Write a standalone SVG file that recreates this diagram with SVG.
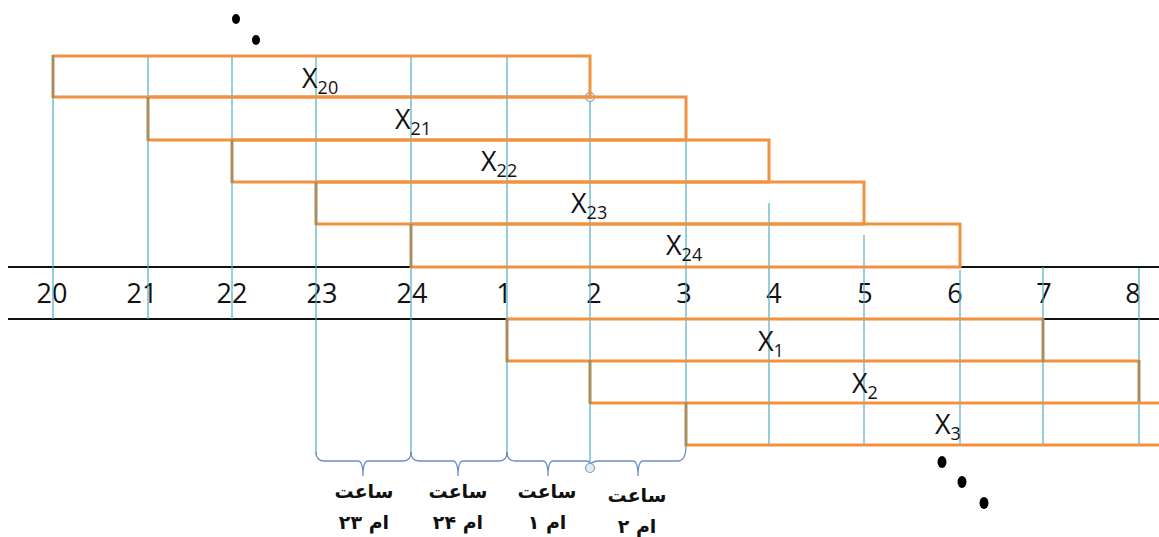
<svg xmlns="http://www.w3.org/2000/svg" width="1159" height="537" viewBox="0 0 1159 537">
<style>
.bg{fill:#ffffff}
.grid{stroke:#4FAEC4;stroke-width:1.2;fill:none}
.axis{stroke:#111111;stroke-width:2;fill:none}
.box{stroke:#F0923F;stroke-width:3;fill:none;stroke-linejoin:miter}
.edge{stroke:#A88E5E;stroke-width:3;fill:none}
.brace{stroke:#6A8EC4;stroke-width:1.3;fill:none}
.num{font-family:"Open Sans","Liberation Sans",sans-serif;font-size:27px;fill:#111111;text-anchor:middle}
.xl{font-family:"Open Sans","Liberation Sans",sans-serif;font-size:27px;fill:#111111}
.sub{font-size:18px}
.fa{font-family:"DejaVu Sans","Noto Sans",sans-serif;font-size:19px;font-weight:bold;fill:#111111;text-anchor:middle}
.dot{fill:#000000}
.knot{fill:#DCEEF5;stroke:#8A9BA8;stroke-width:1.2}
</style>
<rect class="bg" x="0" y="0" width="1159" height="537"/>

<g id="timeline">
  <path class="axis" d="M8,267 H411 M960,267 H1159 M8,319 H507 M1043,319 H1159"/>
  <text class="num" x="52" y="303">20</text>
  <text class="num" x="142" y="303">21</text>
  <text class="num" x="232" y="303">22</text>
  <text class="num" x="322" y="303">23</text>
  <text class="num" x="412" y="303">24</text>
  <text class="num" x="504" y="303">1</text>
  <text class="num" x="594" y="303">2</text>
  <text class="num" x="684" y="303">3</text>
  <text class="num" x="774" y="303">4</text>
  <text class="num" x="865" y="303">5</text>
  <text class="num" x="955" y="303">6</text>
  <text class="num" x="1044" y="303">7</text>
  <text class="num" x="1133" y="303">8</text>
</g>

<g id="connectors">
  <path class="grid" d="M53,56 V319 M148,56 V319 M232,56 V319 M316,56 V455 M411,56 V455 M507,56 V455 M590,97 V464 M686,140 V445 M769,203 V445 M864,235 V445 M960,270 V445 M1043,267 V445 M1139,268 V445"/>
  <path class="brace" d="M316,452 Q316,461 324,461 H358 Q363,461 363,476 Q363,461 368,461 H403 Q411,461 411,452"/>
  <path class="brace" d="M411,452 Q411,461 419,461 H453 Q458,461 458,476 Q458,461 463,461 H499 Q507,461 507,452"/>
  <path class="brace" d="M507,452 Q507,461 515,461 H543 Q548,461 548,476 Q548,461 553,461 H586 Q590,461 590,464"/>
  <path class="brace" d="M590,464 Q594,461 598,461 H633 Q638,461 638,476 Q638,461 643,461 H678 Q686,461 686,445"/>
  <circle class="knot" cx="590" cy="97" r="4.5"/>
  <circle class="knot" cx="590" cy="468" r="4.5"/>
</g>

<g id="X20">
  <path class="box" d="M53,56 H590 V97 H53"/>
  <path class="edge" d="M53,55 V98"/>
  <text class="xl" x="302" y="88">X<tspan class="sub" dy="6">20</tspan></text>
</g>
<g id="X21">
  <path class="box" d="M148,97 H686 V140 H148"/>
  <path class="edge" d="M148,97 V141"/>
  <text class="xl" x="395" y="129">X<tspan class="sub" dy="6">21</tspan></text>
</g>
<g id="X22">
  <path class="box" d="M232,140 H769 V182 H232"/>
  <path class="edge" d="M232,140 V183"/>
  <text class="xl" x="481" y="171">X<tspan class="sub" dy="6">22</tspan></text>
</g>
<g id="X23">
  <path class="box" d="M316,182 H864 V224 H316"/>
  <path class="edge" d="M316,182 V225"/>
  <text class="xl" x="571" y="213">X<tspan class="sub" dy="6">23</tspan></text>
</g>
<g id="X24">
  <path class="box" d="M411,224 H960 V267 H411"/>
  <path class="edge" d="M411,224 V268"/>
  <text class="xl" x="666" y="255">X<tspan class="sub" dy="6">24</tspan></text>
</g>
<g id="X1">
  <path class="box" d="M507,319 H1043 M507,361 H1139"/>
  <path class="edge" d="M507,318 V362 M1043,318 V362"/>
  <text class="xl" x="758" y="351">X<tspan class="sub" dy="6">1</tspan></text>
</g>
<g id="X2">
  <path class="box" d="M590,403 H686"/>
  <path class="edge" d="M590,360 V404 M1139,360 V404"/>
  <text class="xl" x="852" y="393">X<tspan class="sub" dy="6">2</tspan></text>
</g>
<g id="X3">
  <path class="box" d="M686,403 H1159 M686,445 H1159"/>
  <path class="edge" d="M686,402 V446"/>
  <text class="xl" x="935" y="434">X<tspan class="sub" dy="6">3</tspan></text>
</g>

<g id="labels">
  <text class="fa" x="364" y="498">ساعت</text>
  <text class="fa" x="364" y="529">ام ۲۳</text>
  <text class="fa" x="458" y="498">ساعت</text>
  <text class="fa" x="458" y="529">ام ۲۴</text>
  <text class="fa" x="547" y="498">ساعت</text>
  <text class="fa" x="547" y="529">ام ۱</text>
  <text class="fa" x="637" y="502">ساعت</text>
  <text class="fa" x="637" y="533">ام ۲</text>
</g>

<g id="ellipsis">
  <ellipse class="dot" cx="236" cy="19" rx="4" ry="5"/>
  <ellipse class="dot" cx="256" cy="40" rx="4" ry="5"/>
  <ellipse class="dot" cx="942" cy="462" rx="4.5" ry="6"/>
  <ellipse class="dot" cx="962" cy="482" rx="4.5" ry="6"/>
  <ellipse class="dot" cx="984" cy="503" rx="4.5" ry="6"/>
</g>
</svg>
